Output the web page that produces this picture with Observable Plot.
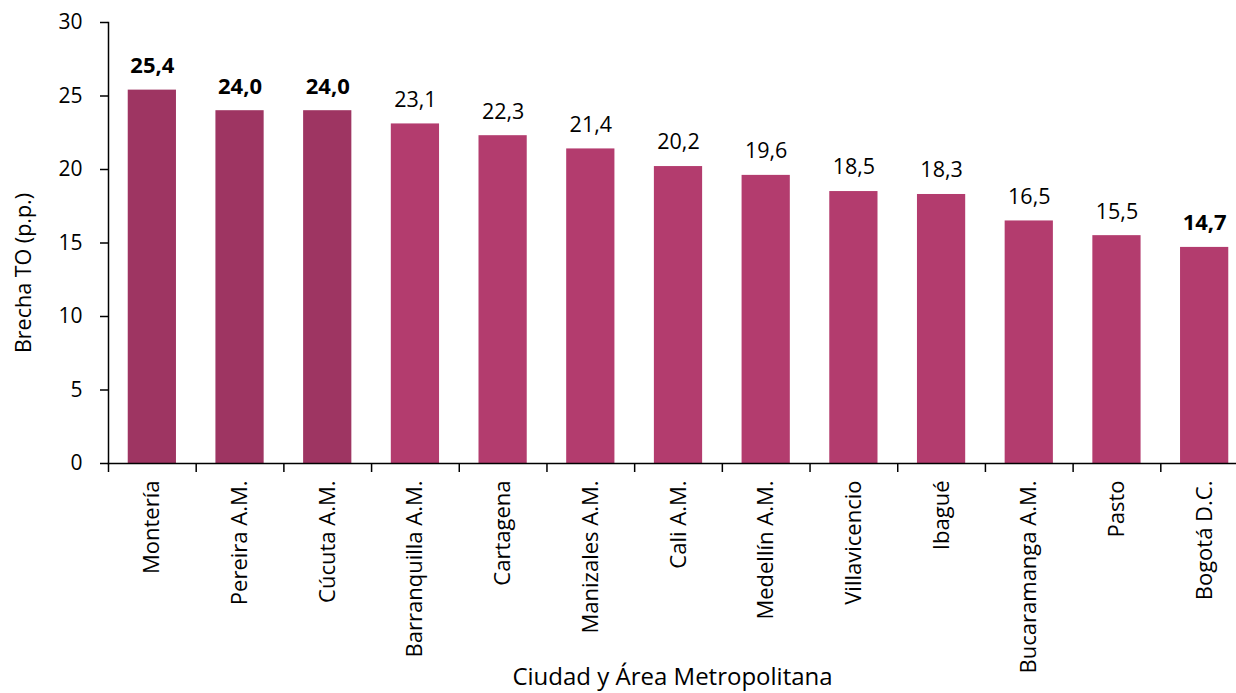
<!DOCTYPE html>
<html>
<head>
<meta charset="utf-8">
<script src="https://cdn.jsdelivr.net/npm/d3@7"></script>
<script src="https://cdn.jsdelivr.net/npm/@observablehq/plot@0.6"></script>
<style>
  html, body { margin: 0; padding: 0; background: #fff; }
  #chart svg { display: block; }
</style>
</head>
<body>
<div id="chart"></div>
<script>
const cities = ["Montería", "Pereira A.M.", "Cúcuta A.M.", "Barranquilla A.M.", "Cartagena", "Manizales A.M.", "Cali A.M.", "Medellín A.M.", "Villavicencio", "Ibagué", "Bucaramanga A.M.", "Pasto", "Bogotá D.C."];
const values = [25.4, 24.0, 24.0, 23.1, 22.3, 21.4, 20.2, 19.6, 18.5, 18.3, 16.5, 15.5, 14.7];
const darkCities = ["Montería", "Pereira A.M.", "Cúcuta A.M."];
const boldCities = ["Montería", "Pereira A.M.", "Cúcuta A.M.", "Bogotá D.C."];
const yTicks = [0, 5, 10, 15, 20, 25, 30];
const yTitle = "Brecha TO (p.p.)";
const xTitle = "Ciudad y Área Metropolitana";

const data = cities.map((c, i) => ({city: c, value: values[i]}));
const fmt = v => v.toFixed(1).replace(".", ",");

const W = 1236, H = 693, mL = 108, mT = 22, mB = 230;
const xEnd = 1248;
const step = (xEnd - mL) / cities.length;
const font = "'Open Sans', sans-serif";

const chart = Plot.plot({
  width: W,
  height: H,
  marginLeft: mL,
  marginRight: 0,
  marginTop: mT,
  marginBottom: mB,
  style: {fontFamily: font, fontSize: "21px", color: "#000", background: "#fff"},
  x: {domain: cities, range: [mL, xEnd], paddingInner: 0.45, paddingOuter: 0.225, round: false, label: null},
  y: {domain: [0, 30], label: null},
  color: {type: "identity"},
  marks: [
    Plot.barY(data, {x: "city", y: "value", fill: d => darkCities.includes(d.city) ? "#9e3562" : "#b33c6e"}),
    Plot.frame({anchor: "left", stroke: "#000", strokeWidth: 1.5}),
    Plot.frame({anchor: "bottom", stroke: "#000", strokeWidth: 1.5}),
    Plot.axisY({ticks: yTicks, tickSize: 8, tickPadding: 18, fontSize: 21, label: null, stroke: "#000", strokeWidth: 1.5}),
    Plot.axisX({tickSize: 9, dx: -step / 2, tickFormat: () => "", label: null, stroke: "#000", strokeWidth: 1.5}),
    Plot.axisX({tickSize: 0, tickPadding: 17, tickRotate: -90, fontSize: 22, label: null}),
    Plot.text(data.filter(d => !boldCities.includes(d.city)), {x: "city", y: "value", text: d => fmt(d.value), dy: -24, fontSize: 21.5, fill: "#000"}),
    Plot.text(data.filter(d => boldCities.includes(d.city)), {x: "city", y: "value", text: d => fmt(d.value), dy: -24, fontSize: 22, fontWeight: "bold", fill: "#000"}),
    Plot.text([yTitle], {frameAnchor: "left", textAnchor: "middle", rotate: -90, dx: -84, dy: 30, fontSize: 21.5, lineAnchor: "middle", fill: "#000"}),
    Plot.text([xTitle], {frameAnchor: "bottom", textAnchor: "middle", dy: 214, fontSize: 24, lineAnchor: "middle", fill: "#000"})
  ]
});
document.getElementById("chart").appendChild(chart);
</script>
</body>
</html>
